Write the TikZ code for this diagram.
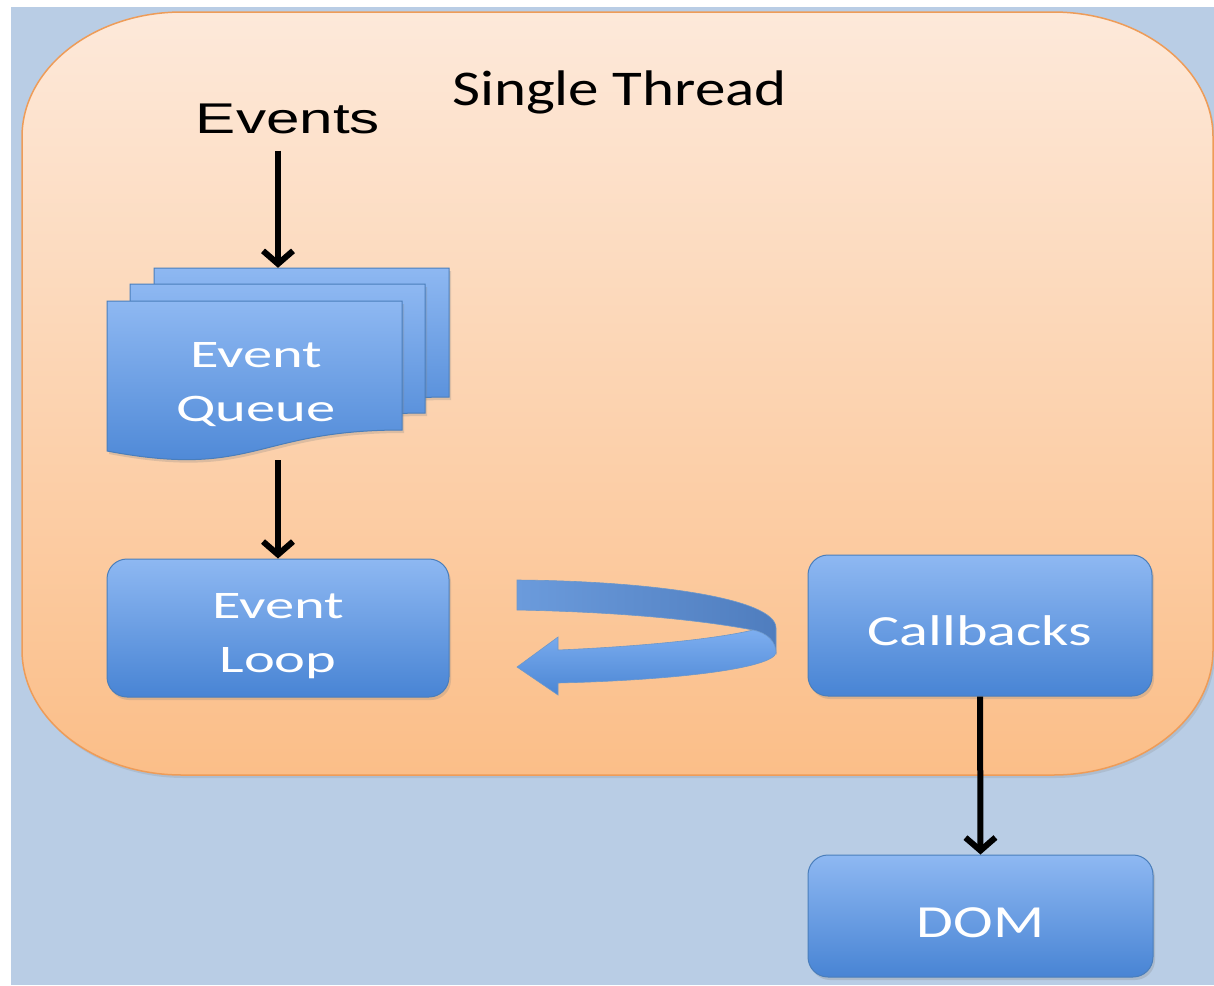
\documentclass[tikz,border=0pt]{standalone}
\usepackage{fontspec}
\usepackage{graphicx}
\newfontfamily\calfont{Carlito}
\newfontfamily\arialfont{Liberation Sans}
\usetikzlibrary{arrows.meta,shadows}
\definecolor{bgblue}{HTML}{B9CDE5}
\definecolor{peachtop}{HTML}{FDE9DA}
\definecolor{peachbot}{HTML}{FBBE88}
\definecolor{peachline}{HTML}{EE9C58}
\definecolor{boxtop}{HTML}{8EB8F2}
\definecolor{boxbot}{HTML}{4884D4}
\definecolor{boxline}{HTML}{4A7EBB}
\definecolor{ribtop}{HTML}{7DAEF0}
\definecolor{ribbot}{HTML}{4B86D4}
\definecolor{backl}{HTML}{6B9BDC}
\definecolor{backr}{HTML}{4F7DBE}
\newcommand\hs[2]{\scalebox{#1}[1]{#2}}
\begin{document}
\begin{tikzpicture}[x=1pt,y=-1pt,
  bluebox/.style={draw=boxline, line width=1pt, rounded corners=20pt,
    top color=boxtop, bottom color=boxbot, text=white, inner sep=0pt,
    drop shadow={shadow xshift=2pt, shadow yshift=-3pt, opacity=0.25}},
  pagebox/.style={draw=boxline, line width=1pt, top color=boxtop, bottom color=boxbot,
    drop shadow={shadow xshift=2pt, shadow yshift=-3pt, opacity=0.25}},
  boxtext/.style={text=white, align=center, inner sep=0pt},
  arr/.style={line width=6pt, -{Straight Barb[length=13pt,width=30pt,line width'=6pt]}},
]
\useasboundingbox (0,0) rectangle (1214,985);
\fill[white] (0,0) rectangle (1214,985);
\fill[bgblue] (11,7) rectangle (1214,985);

% orange thread area
\path[draw=peachline, line width=1.5pt, top color=peachtop, bottom color=peachbot,
  drop shadow={shadow xshift=2pt, shadow yshift=-3pt, opacity=0.2}]
  (22,137) .. controls (22,68) and (94,12) .. (182,12)
  -- (1053,12) .. controls (1141,12) and (1213,68) .. (1213,137)
  -- (1213,650) .. controls (1213,719) and (1141,775) .. (1053,775)
  -- (182,775) .. controls (94,775) and (22,719) .. (22,650) -- cycle;

\node[font=\calfont\fontsize{50}{60}\selectfont, anchor=base, inner sep=0pt] (title) at (619.5,105) {\hs{1.22}{Single Thread}};
\node[font=\arialfont\fontsize{43}{50}\selectfont, anchor=base, inner sep=0pt] (events) at (288,133) {\hs{1.4}{Events}};

% event queue (stack of documents)
\foreach \dx/\dy in {47/-33, 23/-17, 0/0} {
  \path[pagebox, shift={(\dx,\dy)}] (107,301) -- (402,301) -- (402,430)
    .. controls (254.5,430) and (254.5,479) .. (107,451) -- cycle;
}
\node[inner sep=0pt, minimum width=342pt, minimum height=192pt] (eq) at (278,364) {};
\node[boxtext, font=\calfont\fontsize{39}{54}\selectfont] (eqtext) at (256,385) {\hs{1.5}{Event}\\\hs{1.5}{Queue}};

% boxes
\node[bluebox, minimum width=342pt, minimum height=138pt] (loop) at (278,628) {};
\node[boxtext, font=\calfont\fontsize{39}{54}\selectfont] (looptext) at (278,636) {\hs{1.5}{Event}\\\hs{1.5}{Loop}};
\node[bluebox, minimum width=344pt, minimum height=141pt, font=\calfont\fontsize{43}{50}\selectfont,
  text height=39pt, text depth=0pt] (cb) at (980,625.5) {\hs{1.4}{Callbacks}};
\node[bluebox, minimum width=345pt, minimum height=122pt, font=\calfont\fontsize{46}{50}\selectfont,
  text height=42pt, text depth=0pt] (dom) at (980.5,916) {\hs{1.3}{DOM}};

% connectors
\draw[arr, shorten <=17pt] (events.south -| eq.north) -- (eq.north);
\draw[arr] (eq.south) -- (loop.north);
\draw[arr] (cb.south) -- (dom.north);

% curved U-turn ribbon arrow
\path[draw=boxline!80, line width=0.6pt, left color=backl, right color=backr]
  (517,580) .. controls (650,581) and (776,598) .. (776,628)
  -- (776,653) .. controls (772,640) and (765,633) .. (753,630)
  .. controls (700,620) and (620,612) .. (517,610) -- cycle;
\path[draw=boxline!80, line width=0.6pt, top color=ribtop, bottom color=ribbot]
  (558,650) .. controls (650,646) and (720,638) .. (753,630)
  .. controls (768,633) and (776,642) .. (776,653)
  .. controls (772,668) and (680,680) .. (558,683)
  -- (558,695) -- (517,667) -- (558,637) -- cycle;
\end{tikzpicture}
\end{document}
